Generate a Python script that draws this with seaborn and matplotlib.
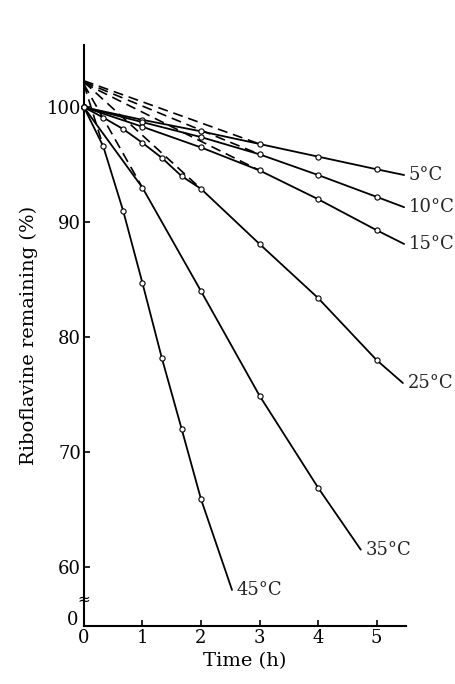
import numpy as np
import pandas as pd
import matplotlib
matplotlib.use("Agg")
import matplotlib.pyplot as plt
import matplotlib.transforms as mtransforms
import seaborn as sns

# ---- data ----
temps = ["5°C", "10°C", "15°C", "25°C", "35°C", "45°C"]

time_5 = [0, 1, 2, 3, 4, 5]
rem_5 = [100, 98.9, 97.9, 96.8, 95.7, 94.6]
time_10 = [0, 1, 2, 3, 4, 5]
rem_10 = [100, 98.7, 97.4, 95.9, 94.1, 92.2]
time_15 = [0, 1, 2, 3, 4, 5]
rem_15 = [100, 98.3, 96.5, 94.5, 92.0, 89.3]
time_25 = [0, 0.33, 0.67, 1, 1.33, 1.67, 2, 3, 4, 5]
rem_25 = [100, 99.1, 98.1, 96.9, 95.6, 94.0, 92.9, 88.1, 83.4, 78.0]
time_35 = [0, 1, 2, 3, 4]
rem_35 = [100, 93.0, 84.0, 74.9, 66.9]
time_45 = [0, 0.33, 0.67, 1, 1.33, 1.67, 2]
rem_45 = [100, 96.6, 91.0, 84.7, 78.2, 72.0, 65.9]

# where each curve ends (label position)
end_time = [5.47, 5.47, 5.47, 5.45, 4.73, 2.53]
end_value = [94.1, 91.3, 88.1, 76.0, 61.5, 58.0]

# dashed extrapolation lines
dash_start = [102.3, 102.2, 102.1, 102.2, 102.0, 102.0]
dash_join_time = [3, 3, 3, 2, 1, 0.33]
dash_join_value = [96.8, 95.9, 94.5, 92.9, 93.0, 96.6]

x_ticks = [0, 1, 2, 3, 4, 5]
y_ticks = [60, 70, 80, 90, 100]

# ---- build tables ----
times = [time_5, time_10, time_15, time_25, time_35, time_45]
rems = [rem_5, rem_10, rem_15, rem_25, rem_35, rem_45]

pts_rows, line_rows, dash_rows = [], [], []
for i, lab in enumerate(temps):
    for t, v in zip(times[i], rems[i]):
        pts_rows.append((lab, t, v))
        line_rows.append((lab, t, v))
    line_rows.append((lab, end_time[i], end_value[i]))
    dash_rows.append((lab, 0.0, dash_start[i]))
    dash_rows.append((lab, dash_join_time[i], dash_join_value[i]))

pts = pd.DataFrame(pts_rows, columns=["temp", "t", "v"])
lines = pd.DataFrame(line_rows, columns=["temp", "t", "v"])
dashes = pd.DataFrame(dash_rows, columns=["temp", "t", "v"])

# ---- drawing ----
sns.set_theme(style="ticks")
plt.rcParams["font.family"] = ["DejaVu Serif", "DejaVu Sans"]

fig = plt.figure(figsize=(4.56, 6.84), dpi=100)
ax = fig.add_axes([0.184, 0.085, 0.706, 0.849])

y_bottom = 54.87
y_top = 105.4

sns.lineplot(data=dashes, x="t", y="v", units="temp", estimator=None,
             color="black", lw=1.2, linestyle=(0, (6, 3.5)), ax=ax,
             legend=False)
sns.lineplot(data=lines, x="t", y="v", units="temp", estimator=None,
             color="black", lw=1.3, ax=ax, legend=False)
sns.scatterplot(data=pts, x="t", y="v", marker="o", s=14,
                facecolor="white", edgecolor="black", linewidth=0.8,
                zorder=5, ax=ax, legend=False, clip_on=False)

for lab, et, ev in zip(temps, end_time, end_value):
    ax.text(et + 0.08, ev, lab, ha="left", va="center", fontsize=13)

ax.set_xlim(0, 5.5)
ax.set_ylim(y_bottom, y_top)
ax.set_xticks(x_ticks)
ax.set_xticklabels([str(v) for v in x_ticks], fontsize=13)
ax.set_yticks([y_bottom] + y_ticks)
ax.set_yticklabels(["0"] + [str(v) for v in y_ticks], fontsize=13)
ax.tick_params(axis="both", direction="in", length=4, width=1.2,
               color="black", labelcolor="black", pad=2)
ax.set_xlabel("Time (h)", fontsize=14, color="black", labelpad=4)
ax.set_ylabel("Riboflavine remaining (%)", fontsize=14, color="black",
              labelpad=6)
for s in ["top", "right"]:
    ax.spines[s].set_visible(False)
for s in ["left", "bottom"]:
    ax.spines[s].set_linewidth(1.5)
    ax.spines[s].set_color("black")

# hide the bottom y tick mark and lift its "0" label off the x-axis "0"
ax.yaxis.get_major_ticks()[0].tick1line.set_visible(False)
zero_lbl = ax.get_yticklabels()[0]
zero_lbl.set_transform(zero_lbl.get_transform() +
                       mtransforms.ScaledTranslation(-2 / 72, 6 / 72,
                                                     fig.dpi_scale_trans))

# axis break mark
ax.text(0, 57.2, "≈", ha="center", va="center", fontsize=11,
        family="DejaVu Sans", color="black")

fig.savefig("out.png", dpi=100)
